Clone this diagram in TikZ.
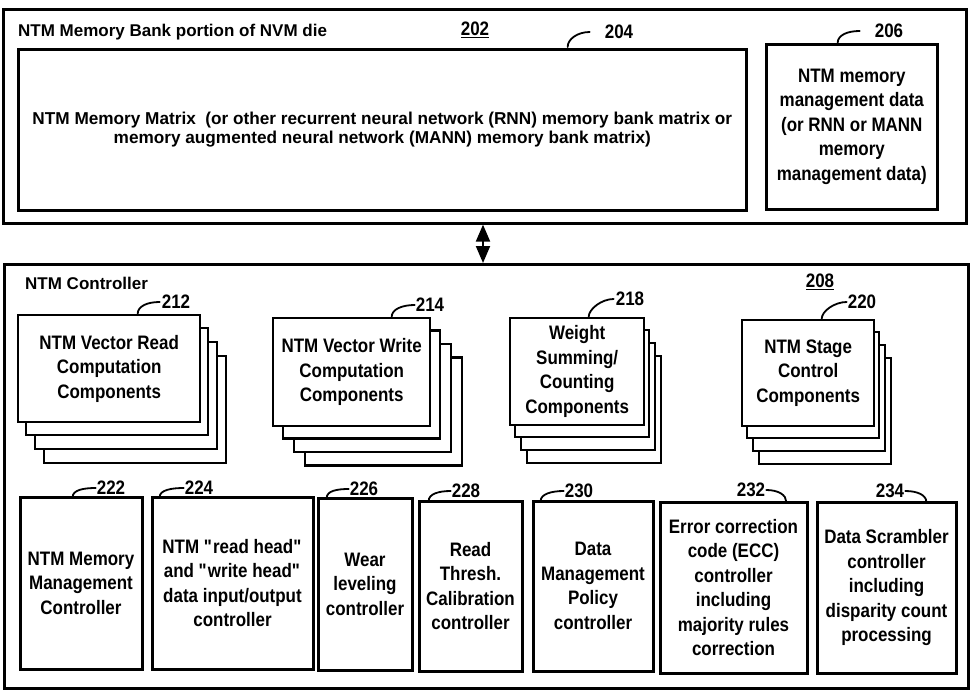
\documentclass[tikz,border=0pt]{standalone}
\usepackage{fontspec}
\setmainfont{Liberation Sans}
\newfontfamily\narrowsf{Liberation Sans}[FakeStretch=0.87]
\usepackage{tikz}
\usetikzlibrary{arrows.meta,positioning}
\usetikzlibrary{calc}

\begin{document}
\begin{tikzpicture}[x=1pt,y=-1pt,
    txt/.style={font=\narrowsf\fontsize{19.5}{24.5}\selectfont\bfseries, align=center},
    frame/.style={draw, line width=2.6pt, fill=white},
    layer/.style={draw, line width=2.4pt, fill=white},
    unit/.style={draw, line width=3pt, fill=white, txt, inner sep=2pt},
    num/.style={font=\narrowsf\fontsize{19.5}{20}\selectfont\bfseries, inner sep=0pt},
    head/.style={font=\fontsize{17}{20}\selectfont\bfseries, inner sep=0pt},
    hook/.style={line width=1.8pt, line cap=round},
    link/.style={line width=2pt, {Triangle[width=14pt,length=17pt]}-{Triangle[width=14pt,length=17pt]}}]

            \useasboundingbox (0,0) rectangle (975,694);

            % memory bank on the NVM die
            \node[frame, minimum width=963, minimum height=214, anchor=north west] (bank) at (2,8) {};
            \node[head, anchor=west] (bankname) at (18,32) {NTM Memory Bank portion of NVM die};
            \node[num] (n202) at (475,30) {\underline{202}};
            \node[frame, align=center, font=\fontsize{17.2}{19.5}\selectfont\bfseries, minimum width=728, minimum height=161, anchor=north west] (matrix) at (17,48)
                {NTM Memory Matrix\ \ (or other recurrent neural network (RNN) memory bank matrix or\\memory augmented neural network (MANN) memory bank matrix)};
            \node[frame, txt, minimum width=171, minimum height=165, anchor=north west] (mgmt) at (765,43)
                {NTM memory\\management data\\(or RNN or MANN\\memory\\management data)};
            \node[num] (n204) at (619,32) {204};
            \node[num] (n206) at (889,31) {206};
            \draw[hook] (n204.west) ++(-15,0) .. controls +(-12,0) and +(0,-8) .. ++(-22,15);
            \draw[hook] (n206.west) ++(-15,0) .. controls +(-12,0) and +(0,-8) .. ++(-22,12);

            % controller
            \node[frame, minimum width=964, minimum height=424, anchor=north west] (ctrl) at (3,263) {};
            \node[head, anchor=west] (ctrlname) at (25,283) {NTM Controller};
            \node[num] (n208) at (820,282) {\underline{208}};

            \coordinate (mid) at (483,0);
            \draw[link] (bank.south -| mid) -- (ctrl.north -| mid);

            % stacked component groups
            \coordinate (rdc) at (17,314);
            \foreach \i in {3,2,1}
                \draw[layer] ($(rdc)+(\i*9,\i*14)$) rectangle ++(182,107);
            \node[layer, txt, minimum width=182, minimum height=107, anchor=north west] (rd) at (rdc)
                {NTM Vector Read\\Computation\\Components};

            \coordinate (wrc) at (272,317);
            \foreach \i in {3,2,1}
                \draw[layer] ($(wrc)+(\i*11,\i*13.5)$) rectangle ++(157,108);
            \node[layer, txt, minimum width=157, minimum height=108, anchor=north west] (wr) at (wrc)
                {NTM Vector Write\\Computation\\Components};

            \coordinate (wsc) at (509,317);
            \foreach \i in {3,2,1}
                \draw[layer] ($(wsc)+(\i*6,\i*13)$) rectangle ++(134,107);
            \node[layer, txt, minimum width=134, minimum height=107, anchor=north west] (ws) at (wsc)
                {Weight\\Summing/\\Counting\\Components};

            \coordinate (stc) at (741,319);
            \foreach \i in {3,2,1}
                \draw[layer] ($(stc)+(\i*6,\i*13)$) rectangle ++(132,106);
            \node[layer, txt, minimum width=132, minimum height=106, anchor=north west] (st) at (stc)
                {NTM Stage\\Control\\Components};

            \node[num] (n212) at (176,302) {212};
            \node[num] (n214) at (430,305) {214};
            \node[num] (n218) at (630,299) {218};
            \node[num] (n220) at (862,302) {220};
            \draw[hook] (n212.west) ++(-2,0) .. controls +(-12,0) and +(0,-8) .. ++(-22,12);
            \draw[hook] (n214.west) ++(-1,0) .. controls +(-12,0) and +(0,-8) .. ++(-23,12);
            \draw[hook] (n218.west) ++(-2,0) .. controls +(-12,0) and +(0,-8) .. ++(-25,18);
            \draw[hook] (n220.west) ++(-1,0) .. controls +(-12,0) and +(0,-8) .. ++(-25,17);

            % controller units
            \node[unit, minimum width=122, minimum height=172] (mmc) at (81,583) {NTM Memory\\Management\\Controller};
            \node[unit, minimum width=161, minimum height=172] (io) at (232.5,583) {NTM \textquotedbl read head\textquotedbl\\and \textquotedbl write head\textquotedbl\\data input/output\\controller};
            \node[unit, minimum width=94, minimum height=172] (wear) at (365,584) {Wear\\leveling\\controller};
            \node[unit, minimum width=103, minimum height=170] (thr) at (470.5,586) {Read\\Thresh.\\Calibration\\controller};
            \node[unit, minimum width=120, minimum height=170] (pol) at (593,586) {Data\\Management\\Policy\\controller};
            \node[unit, minimum width=147, minimum height=171] (ecc) at (733.5,587.5) {Error correction\\code (ECC)\\controller\\including\\majority rules\\correction};
            \node[unit, minimum width=139, minimum height=171] (scr) at (886.5,587.5) {Data Scrambler\\controller\\including\\disparity count\\processing};

            \node[num] (n222) at (111,488) {222};
            \node[num] (n224) at (199,488) {224};
            \node[num] (n226) at (364,489) {226};
            \node[num] (n228) at (466,491) {228};
            \node[num] (n230) at (579,491) {230};
            \node[num] (n232) at (751,490) {232};
            \node[num] (n234) at (890,491) {234};
            \draw[hook] (n222.west) ++(-1,0) .. controls +(-12,0) and +(0,-7) .. ++(-23,9);
            \draw[hook] (n224.west) ++(-1,0) .. controls +(-12,0) and +(0,-7) .. ++(-24,9);
            \draw[hook] (n226.west) ++(-1,0) .. controls +(-12,0) and +(0,-7) .. ++(-22,9);
            \draw[hook] (n228.west) ++(-1,0) .. controls +(-12,0) and +(0,-7) .. ++(-22,10);
            \draw[hook] (n230.west) ++(-1,0) .. controls +(-12,0) and +(0,-7) .. ++(-23,10);
            \draw[hook] (n232.east) ++(1,0) .. controls +(12,0) and +(0,-7) .. ++(20,12);
            \draw[hook] (n234.east) ++(1,0) .. controls +(12,0) and +(0,-7) .. ++(21,11);
        \end{tikzpicture}
\end{document}
